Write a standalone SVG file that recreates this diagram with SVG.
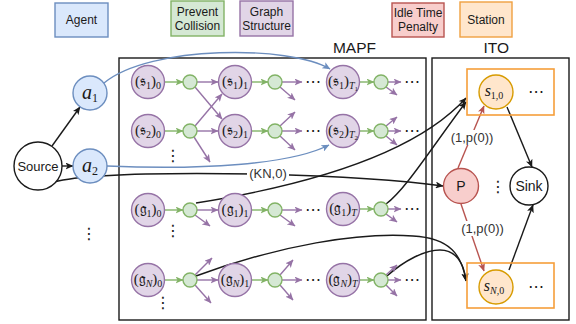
<svg xmlns="http://www.w3.org/2000/svg" width="576" height="324" viewBox="0 0 576 324">
  <style>
    .lbl { font-family: "Liberation Sans", Arial, sans-serif; font-size: 12px; fill: #1a1a1a; text-anchor: middle; }
    .big { font-family: "Liberation Sans", Arial, sans-serif; font-size: 15.5px; fill: #1a1a1a; }
    .elbl { font-family: "Liberation Sans", Arial, sans-serif; font-size: 13px; fill: #333; text-anchor: middle; }
    .mt { font-family: "Liberation Serif", "DejaVu Serif", serif; font-size: 15px; fill: #1a1a1a; text-anchor: middle; }
    .fk { font-family: "DejaVu Serif", "Noto Sans", serif; font-size: 15px; }
    .it { font-style: italic; }
    .sb { font-size: 10px; }
    .ssb { font-size: 7px; }
    .dots { font-family: "DejaVu Sans", sans-serif; font-size: 16px; fill: #1a1a1a; text-anchor: middle; }
    .box { fill: none; stroke: #1a1a1a; stroke-width: 1.4; }
    .agent { fill: #dae8fc; stroke: #6c8ebf; stroke-width: 1.4; }
    .graph { fill: #e1d5e7; stroke: #9673a6; stroke-width: 1.4; }
    .coll { fill: #d5e8d4; stroke: #82b366; stroke-width: 1.4; }
    .pen { fill: #f8cecc; stroke: #b85450; stroke-width: 1.4; }
    .stat { fill: #ffe6cc; stroke: #d79b00; stroke-width: 1.4; }
    .statbox { fill: none; stroke: #f59e3a; stroke-width: 1.6; }
    .plain { fill: #ffffff; stroke: #1a1a1a; stroke-width: 1.4; }
    .eb { fill: none; stroke: #1a1a1a; stroke-width: 1.4; marker-end: url(#ab); }
    .ebl { fill: none; stroke: #6c8ebf; stroke-width: 1.4; marker-end: url(#abl); }
    .eg { fill: none; stroke: #82b366; stroke-width: 1.4; marker-end: url(#ag); }
    .ep { fill: none; stroke: #9673a6; stroke-width: 1.4; marker-end: url(#ap); }
    .er { fill: none; stroke: #b85450; stroke-width: 1.4; marker-end: url(#ar); }
  </style>
  <defs>
    <marker id="ab" viewBox="0 0 8 7" refX="7.5" refY="3.5" markerWidth="8" markerHeight="7" markerUnits="userSpaceOnUse" orient="auto">
      <path d="M0,0 L8,3.5 L0,7 L2,3.5 Z" fill="#1a1a1a"/>
    </marker>
    <marker id="abl" viewBox="0 0 8 7" refX="7.5" refY="3.5" markerWidth="8" markerHeight="7" markerUnits="userSpaceOnUse" orient="auto">
      <path d="M0,0 L8,3.5 L0,7 L2,3.5 Z" fill="#6c8ebf"/>
    </marker>
    <marker id="ag" viewBox="0 0 8 7" refX="7.5" refY="3.5" markerWidth="8" markerHeight="7" markerUnits="userSpaceOnUse" orient="auto">
      <path d="M0,0 L8,3.5 L0,7 L2,3.5 Z" fill="#82b366"/>
    </marker>
    <marker id="ap" viewBox="0 0 8 7" refX="7.5" refY="3.5" markerWidth="8" markerHeight="7" markerUnits="userSpaceOnUse" orient="auto">
      <path d="M0,0 L8,3.5 L0,7 L2,3.5 Z" fill="#9673a6"/>
    </marker>
    <marker id="ar" viewBox="0 0 8 7" refX="7.5" refY="3.5" markerWidth="8" markerHeight="7" markerUnits="userSpaceOnUse" orient="auto">
      <path d="M0,0 L8,3.5 L0,7 L2,3.5 Z" fill="#b85450"/>
    </marker>
  </defs>

  <rect width="576" height="324" fill="#ffffff"/>

  <!-- legend -->
  <g id="legend">
    <rect class="agent" x="55" y="3" width="53" height="34"/>
    <text class="lbl" x="81.5" y="24">Agent</text>
    <rect class="coll" x="171" y="1" width="53" height="35"/>
    <text class="lbl" x="197.5" y="16">Prevent</text>
    <text class="lbl" x="197.5" y="30">Collision</text>
    <rect class="graph" x="240" y="1" width="53" height="35"/>
    <text class="lbl" x="266.5" y="16">Graph</text>
    <text class="lbl" x="266.5" y="30">Structure</text>
    <rect class="pen" x="392" y="3" width="52" height="34"/>
    <text class="lbl" x="418" y="17">Idle Time</text>
    <text class="lbl" x="418" y="31">Penalty</text>
    <rect class="stat" x="460" y="2" width="52" height="35" style="stroke:#f0a040"/>
    <text class="lbl" x="486" y="24">Station</text>
  </g>

  <!-- sub-problem frames -->
  <g id="mapf">
    <rect class="box" x="119" y="58" width="307" height="262"/>
    <text class="big" x="376" y="53" text-anchor="end">MAPF</text>
  </g>
  <g id="ito">
    <rect class="box" x="432" y="58" width="137" height="262"/>
    <text class="big" x="509" y="53" text-anchor="end">ITO</text>
  </g>

  <!-- connectors -->
  <g id="connectors">
    <!-- source to agents -->
    <path class="eb" d="M52,146 L80,107"/>
    <path class="eb" d="M62,166 L73,166"/>
    <!-- agents to goal-time nodes -->
    <path class="ebl" d="M104,83 C150,45 290,45 330,69"/>
    <path class="ebl" d="M107,166 C200,170 290,165 329,145"/>
    <!-- source to penalty -->
    <path class="eb" d="M54,182 C90,172 200,173 260,174 C330,176 400,180 443,186"/>
    <!-- goal nodes to stations -->
    <path class="eb" d="M196,203 C290,188 410,160 466,98"/>
    <path class="eb" d="M386,204 C405,190 430,150 466,102"/>
    <path class="eb" d="M196,276 C280,245 360,232 413,236 C450,238 462,255 466,281"/>
    <path class="eb" d="M387,276 C405,260 425,250 440,250 C455,250 464,262 466,281"/>
    <!-- stations to sink -->
    <path class="eb" d="M507,107 L532,167"/>
    <path class="eb" d="M509,270 L533,205"/>
    <!-- penalty to stations -->
    <path class="er" d="M458,168 L484,106"/>
    <path class="er" d="M461,204 L484,271"/>

    <!-- row s1 -->
    <path class="eg" d="M165,82 L183,82"/>
    <path class="ep" d="M197,82 L218,82"/>
    <path class="eg" d="M252,82 L268,82"/>
    <path class="ep" d="M282,82 L302,82"/>
    <path class="ep" d="M280,87 L295,100"/>
    <path class="eg" d="M360,82 L374,82"/>
    <path class="ep" d="M388,82 L401,82"/>
    <path class="ep" d="M386,87 L397,95"/>
    <path class="ep" d="M195,87 L222,119"/>
    <!-- row s2 -->
    <path class="eg" d="M165,131 L183,131"/>
    <path class="ep" d="M197,131 L218,131"/>
    <path class="ep" d="M195,126 L222,94"/>
    <path class="ep" d="M194,137 L210,162"/>
    <path class="eg" d="M252,131 L268,131"/>
    <path class="ep" d="M282,131 L302,131"/>
    <path class="ep" d="M280,126 L295,112"/>
    <path class="ep" d="M280,136 L295,150"/>
    <path class="eg" d="M360,131 L374,131"/>
    <path class="ep" d="M388,131 L401,131"/>
    <path class="ep" d="M386,126 L397,117"/>
    <path class="ep" d="M386,136 L397,145"/>
    <!-- row g1 -->
    <path class="eg" d="M165,210 L183,210"/>
    <path class="ep" d="M197,210 L218,210"/>
    <path class="ep" d="M195,215 L210,226"/>
    <path class="eg" d="M252,210 L268,210"/>
    <path class="ep" d="M282,210 L302,210"/>
    <path class="ep" d="M280,215 L295,226"/>
    <path class="eg" d="M360,209 L374,209"/>
    <path class="ep" d="M388,209 L401,209"/>
    <path class="ep" d="M386,214 L397,222"/>
    <!-- row gN -->
    <path class="eg" d="M165,280 L183,280"/>
    <path class="ep" d="M197,280 L218,280"/>
    <path class="ep" d="M195,275 L212,258"/>
    <path class="ep" d="M195,285 L211,303"/>
    <path class="eg" d="M252,280 L268,280"/>
    <path class="ep" d="M282,280 L302,280"/>
    <path class="ep" d="M280,275 L293,260"/>
    <path class="ep" d="M280,285 L293,300"/>
    <path class="eg" d="M360,280 L374,280"/>
    <path class="ep" d="M388,280 L401,280"/>
    <path class="ep" d="M386,275 L397,265"/>
    <path class="ep" d="M386,285 L397,296"/>

    <!-- edge labels -->
    <rect x="247" y="166" width="42" height="15" fill="#ffffff"/>
    <text class="elbl" x="268" y="178">(KN,0)</text>
    <rect x="451" y="130" width="42" height="15" fill="#ffffff"/>
    <text class="elbl" x="472" y="142">(1,p(0))</text>
    <rect x="461" y="221" width="43" height="15" fill="#ffffff"/>
    <text class="elbl" x="482.5" y="233">(1,p(0))</text>
  </g>

  <!-- source and agents -->
  <g id="source">
    <circle class="plain" cx="38" cy="166" r="24"/>
    <text class="elbl" x="38" y="171" style="fill:#1a1a1a">Source</text>
  </g>
  <g id="agent-1">
    <circle class="agent" cx="90" cy="93" r="17"/>
    <text class="mt it" x="90" y="99" style="font-size:20px">a<tspan dy="3" style="font-size:12px;font-style:normal">1</tspan></text>
  </g>
  <g id="agent-2">
    <circle class="agent" cx="90" cy="166" r="17"/>
    <text class="mt it" x="90" y="172" style="font-size:20px">a<tspan dy="3" style="font-size:12px;font-style:normal">2</tspan></text>
  </g>
  <text class="dots" x="89" y="239">⋮</text>

  <!-- time-expanded graph nodes -->
  <g id="s1-0"><circle class="graph" cx="148" cy="82" r="16.5"/><text class="mt" x="148" y="86">(<tspan class="fk">𝔰</tspan><tspan class="sb" dy="3">1</tspan><tspan dy="-3">)</tspan><tspan class="sb" dy="3">0</tspan></text></g>
  <g id="c-s1-0"><circle class="coll" cx="190" cy="82" r="7"/></g>
  <g id="s1-1"><circle class="graph" cx="235" cy="82" r="16.5"/><text class="mt" x="235" y="86">(<tspan class="fk">𝔰</tspan><tspan class="sb" dy="3">1</tspan><tspan dy="-3">)</tspan><tspan class="sb" dy="3">1</tspan></text></g>
  <g id="c-s1-1"><circle class="coll" cx="275" cy="82" r="7"/></g>
  <g id="s1-T"><circle class="graph" cx="343" cy="82" r="16.5"/><text class="mt" x="343" y="86">(<tspan class="fk">𝔰</tspan><tspan class="sb" dy="3">1</tspan><tspan dy="-3">)</tspan><tspan class="sb it" dy="3">T</tspan><tspan class="ssb" dy="2">1</tspan></text></g>
  <g id="c-s1-T"><circle class="coll" cx="381" cy="82" r="7"/></g>

  <g id="s2-0"><circle class="graph" cx="148" cy="131" r="16.5"/><text class="mt" x="148" y="135">(<tspan class="fk">𝔰</tspan><tspan class="sb" dy="3">2</tspan><tspan dy="-3">)</tspan><tspan class="sb" dy="3">0</tspan></text></g>
  <g id="c-s2-0"><circle class="coll" cx="190" cy="131" r="7"/></g>
  <g id="s2-1"><circle class="graph" cx="235" cy="131" r="16.5"/><text class="mt" x="235" y="135">(<tspan class="fk">𝔰</tspan><tspan class="sb" dy="3">2</tspan><tspan dy="-3">)</tspan><tspan class="sb" dy="3">1</tspan></text></g>
  <g id="c-s2-1"><circle class="coll" cx="275" cy="131" r="7"/></g>
  <g id="s2-T"><circle class="graph" cx="343" cy="131" r="16.5"/><text class="mt" x="343" y="135">(<tspan class="fk">𝔰</tspan><tspan class="sb" dy="3">2</tspan><tspan dy="-3">)</tspan><tspan class="sb it" dy="3">T</tspan><tspan class="ssb" dy="2">2</tspan></text></g>
  <g id="c-s2-T"><circle class="coll" cx="381" cy="131" r="7"/></g>

  <g id="g1-0"><circle class="graph" cx="148" cy="210" r="16.5"/><text class="mt" x="148" y="214">(<tspan class="fk">𝔤</tspan><tspan class="sb" dy="3">1</tspan><tspan dy="-3">)</tspan><tspan class="sb" dy="3">0</tspan></text></g>
  <g id="c-g1-0"><circle class="coll" cx="190" cy="210" r="7"/></g>
  <g id="g1-1"><circle class="graph" cx="235" cy="210" r="16.5"/><text class="mt" x="235" y="214">(<tspan class="fk">𝔤</tspan><tspan class="sb" dy="3">1</tspan><tspan dy="-3">)</tspan><tspan class="sb" dy="3">1</tspan></text></g>
  <g id="c-g1-1"><circle class="coll" cx="275" cy="210" r="7"/></g>
  <g id="g1-T"><circle class="graph" cx="343" cy="209" r="16.5"/><text class="mt" x="343" y="213">(<tspan class="fk">𝔤</tspan><tspan class="sb" dy="3">1</tspan><tspan dy="-3">)</tspan><tspan class="sb it" dy="3">T</tspan></text></g>
  <g id="c-g1-T"><circle class="coll" cx="381" cy="209" r="7"/></g>

  <g id="gN-0"><circle class="graph" cx="148" cy="280" r="16.5"/><text class="mt" x="148" y="284">(<tspan class="fk">𝔤</tspan><tspan class="sb it" dy="3">N</tspan><tspan dy="-3">)</tspan><tspan class="sb" dy="3">0</tspan></text></g>
  <g id="c-gN-0"><circle class="coll" cx="190" cy="280" r="7"/></g>
  <g id="gN-1"><circle class="graph" cx="235" cy="280" r="16.5"/><text class="mt" x="235" y="284">(<tspan class="fk">𝔤</tspan><tspan class="sb it" dy="3">N</tspan><tspan dy="-3">)</tspan><tspan class="sb" dy="3">1</tspan></text></g>
  <g id="c-gN-1"><circle class="coll" cx="275" cy="280" r="7"/></g>
  <g id="gN-T"><circle class="graph" cx="343" cy="280" r="16.5"/><text class="mt" x="343" y="284">(<tspan class="fk">𝔤</tspan><tspan class="sb it" dy="3">N</tspan><tspan dy="-3">)</tspan><tspan class="sb it" dy="3">T</tspan></text></g>
  <g id="c-gN-T"><circle class="coll" cx="381" cy="280" r="7"/></g>

  <!-- ellipses in the graph -->
  <g id="graph-dots">
    <text class="dots" x="313" y="87">⋯</text>
    <text class="dots" x="412" y="87">⋯</text>
    <text class="dots" x="313" y="136">⋯</text>
    <text class="dots" x="412" y="136">⋯</text>
    <text class="dots" x="313" y="215">⋯</text>
    <text class="dots" x="412" y="214">⋯</text>
    <text class="dots" x="313" y="285">⋯</text>
    <text class="dots" x="412" y="285">⋯</text>
    <text class="dots" x="173" y="161">⋮</text>
    <text class="dots" x="173" y="236">⋮</text>
    <text class="dots" x="163" y="308">⋮</text>
  </g>

  <!-- ITO nodes -->
  <g id="station-1">
    <rect class="statbox" x="467" y="69" width="87" height="46"/>
    <circle class="stat" cx="496" cy="92" r="17"/>
    <text class="mt it" x="494" y="96" style="font-size:16px">s<tspan dy="3" style="font-size:10px;font-style:normal">1,0</tspan></text>
    <text class="dots" x="536" y="97">⋯</text>
  </g>
  <g id="station-N">
    <rect class="statbox" x="467" y="263" width="87" height="45"/>
    <circle class="stat" cx="496" cy="287" r="17"/>
    <text class="mt it" x="494" y="291" style="font-size:16px">s<tspan dy="3" style="font-size:10px">N</tspan><tspan style="font-size:10px;font-style:normal">,0</tspan></text>
    <text class="dots" x="536" y="292">⋯</text>
  </g>
  <g id="penalty">
    <circle class="pen" cx="461" cy="186" r="17.5"/>
    <text class="elbl" x="461" y="191" style="font-size:14px;fill:#1a1a1a">P</text>
  </g>
  <text class="dots" x="498" y="192">⋮</text>
  <g id="sink">
    <circle class="plain" cx="529" cy="186" r="19"/>
    <text class="elbl" x="529" y="191" style="font-size:14px;fill:#1a1a1a">Sink</text>
  </g>
</svg>
